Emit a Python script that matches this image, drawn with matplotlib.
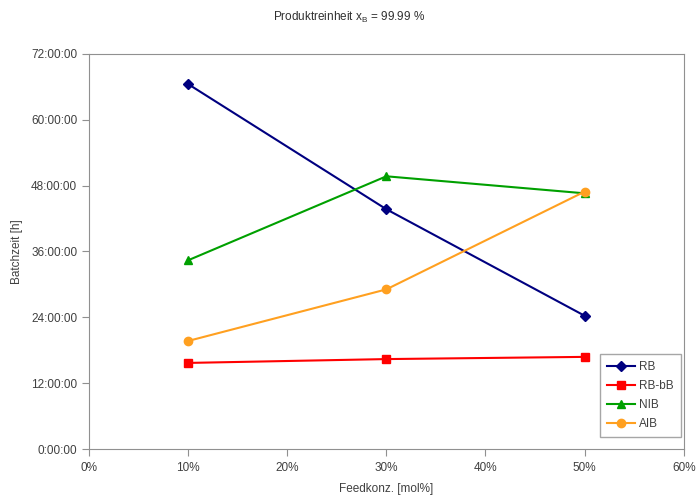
import matplotlib.pyplot as plt
from matplotlib.ticker import FuncFormatter, MultipleLocator

plt.rcParams['font.family'] = ['Liberation Sans', 'DejaVu Sans']

# Feed concentration [mol%] and batch times [h]
feed = [10, 30, 50]
rb = [66.5, 43.7, 24.3]
rb_bb = [15.7, 16.4, 16.8]
nib = [34.4, 49.7, 46.6]
aib = [19.7, 29.1, 46.9]

series = [
    ("RB", rb, "#000080", "D", 5),
    ("RB-bB", rb_bb, "#FF0000", "s", 6),
    ("NIB", nib, "#00A000", "^", 6),
    ("AIB", aib, "#FFA020", "o", 6),
]

fig = plt.figure(figsize=(6.98, 4.99), dpi=100)
ax = fig.add_axes([0.1275, 0.1, 0.852, 0.792])

for name, vals, col, mk, ms in series:
    ax.plot(feed, vals, color=col, marker=mk, markersize=ms, linewidth=1.5, label=name)

ax.set_xlim(0, 60)
ax.set_ylim(0, 72)
ax.xaxis.set_major_locator(MultipleLocator(10))
ax.yaxis.set_major_locator(MultipleLocator(12))
ax.xaxis.set_major_formatter(FuncFormatter(lambda v, p: f"{int(v)}%"))
ax.yaxis.set_major_formatter(FuncFormatter(lambda v, p: f"{int(v)}:00:00"))

for s in ax.spines.values():
    s.set_color("#909090")
ax.tick_params(colors="#909090", labelcolor="#404040", labelsize=8.5, direction="out", length=5)
ax.tick_params(axis="x", pad=4)

ax.set_xlabel("Feedkonz. [mol%]", fontsize=8.5, color="#404040", labelpad=7)
ax.set_ylabel("Batchzeit [h]", fontsize=8.5, color="#404040", labelpad=6)
fig.text(0.5, 0.965, r"Produktreinheit x$_\mathregular{B}$ = 99.99 %", ha="center",
         va="center", fontsize=8.5, color="#303030")

leg = ax.legend(loc="lower right", bbox_to_anchor=(0.995, 0.03), fontsize=8.5,
                frameon=True, fancybox=False, edgecolor="#909090", handlelength=2.4,
                borderpad=0.6, labelspacing=0.6, handletextpad=0.3, borderaxespad=0)
leg.get_frame().set_linewidth(1.0)
for t in leg.get_texts():
    t.set_color("#404040")

fig.savefig("out.png", dpi=100)
